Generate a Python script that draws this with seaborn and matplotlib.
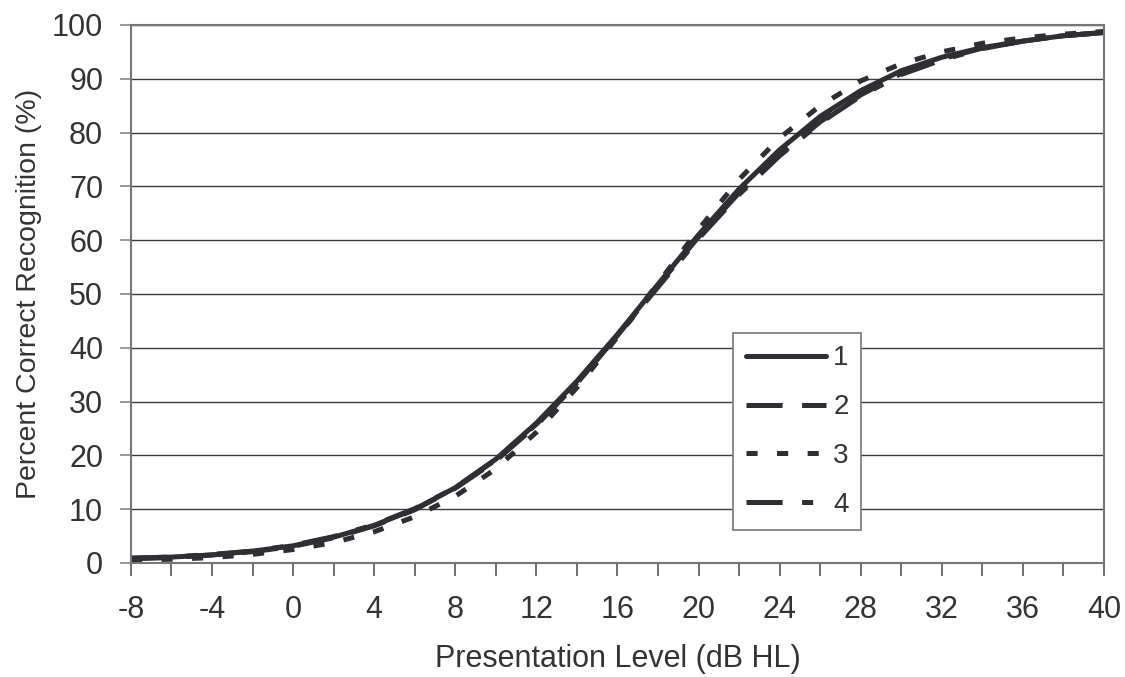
import numpy as np
import pandas as pd
import matplotlib
matplotlib.use('Agg')
import matplotlib.pyplot as plt
import seaborn as sns
from matplotlib.ticker import MultipleLocator

# niveis de apresentacao (dB HL)
niveis = [-8, -6, -4, -2, 0, 2, 4, 6, 8, 10, 12, 14, 16, 18, 20, 22, 24, 26, 28, 30, 32, 34, 36, 38, 40]

# percentual de reconhecimento por curva
curva1 = [0.9, 1.1, 1.5, 2.2, 3.2, 4.8, 7.0, 10.0, 14.0, 19.3, 26.0, 33.8, 42.5, 51.8, 61.0, 69.5, 76.8, 83.0, 87.8, 91.5, 94.0, 95.8, 97.0, 98.0, 98.6]
curva2 = [0.8, 1.0, 1.5, 2.1, 3.1, 4.7, 6.9, 9.9, 13.9, 19.0, 25.6, 33.4, 42.3, 51.6, 60.6, 68.8, 75.8, 82.0, 87.0, 91.0, 93.7, 95.7, 97.0, 98.0, 98.6]
curva3 = [0.5, 0.7, 1.0, 1.6, 2.5, 3.8, 5.8, 8.6, 12.4, 17.5, 24.3, 32.6, 42.0, 52.0, 62.0, 71.3, 79.0, 85.0, 89.6, 92.8, 95.0, 96.6, 97.6, 98.3, 98.8]
curva4 = [0.9, 1.1, 1.6, 2.2, 3.3, 4.9, 7.1, 10.1, 14.0, 19.2, 25.8, 33.5, 42.2, 51.3, 60.3, 68.5, 75.7, 81.8, 86.8, 90.8, 93.5, 95.6, 97.0, 98.0, 98.6]
nomes = ['1', '2', '3', '4']

df = pd.DataFrame({
    'nivel': niveis * 4,
    'pct': curva1 + curva2 + curva3 + curva4,
    'curva': [n for n in nomes for _ in niveis],
})

sns.set_style('white')
plt.rcParams['font.family'] = ['Liberation Sans', 'DejaVu Sans']
plt.rcParams['lines.scale_dashes'] = False
plt.rcParams['axes.unicode_minus'] = False
cor_txt = '#333333'
cor_linha = '#2f2f33'

fig = plt.figure(figsize=(11.25, 6.77), dpi=100)
ax = fig.add_axes([0.1164, 0.1684, 0.9813 - 0.1164, 0.9631 - 0.1684])

tracos = {'1': '', '2': (26, 14), '3': (8, 14), '4': (26, 14, 8, 14)}
sns.lineplot(data=df, x='nivel', y='pct', hue='curva', style='curva',
             palette=[cor_linha] * 4, dashes=tracos, linewidth=3.6,
             legend=False, ax=ax, sort=False)
for ln in ax.lines:
    ln.set_dash_capstyle('butt')
    ln.set_solid_capstyle('round')

ax.set_xlim(-8, 40)
ax.set_ylim(0, 100)
ax.xaxis.set_major_locator(MultipleLocator(4))
ax.xaxis.set_minor_locator(MultipleLocator(2))
ax.yaxis.set_major_locator(MultipleLocator(10))
ax.yaxis.grid(True, color='#3a3a3a', linewidth=1.0)
ax.set_axisbelow(True)

for s in ax.spines.values():
    s.set_color('#777777')
    s.set_linewidth(1.5)

ax.tick_params(axis='x', which='both', direction='out', length=9, width=1.2,
               color='#555555', labelsize=22, labelcolor=cor_txt, pad=14, bottom=True)
ax.tick_params(axis='y', which='major', direction='out', length=8, width=1.2,
               color='#888888', labelsize=22, labelcolor=cor_txt, pad=12, left=True)

ax.set_xlabel('Presentation Level (dB HL)', fontsize=22, color=cor_txt, labelpad=14)
ax.set_ylabel('Percent Correct Recognition (%)', fontsize=20.5, color=cor_txt, labelpad=7)

leg = ax.legend(ax.lines, nomes, loc='upper left', bbox_to_anchor=(0.619, 0.4275),
                borderaxespad=0, frameon=True, fancybox=False, framealpha=1,
                edgecolor='#777777', fontsize=20, handlelength=2.9, handletextpad=0.25,
                labelspacing=0.82, borderpad=0.45)
leg.get_frame().set_linewidth(1.2)
for t in leg.get_texts():
    t.set_color(cor_txt)

fig.savefig('out.png', dpi=100)
